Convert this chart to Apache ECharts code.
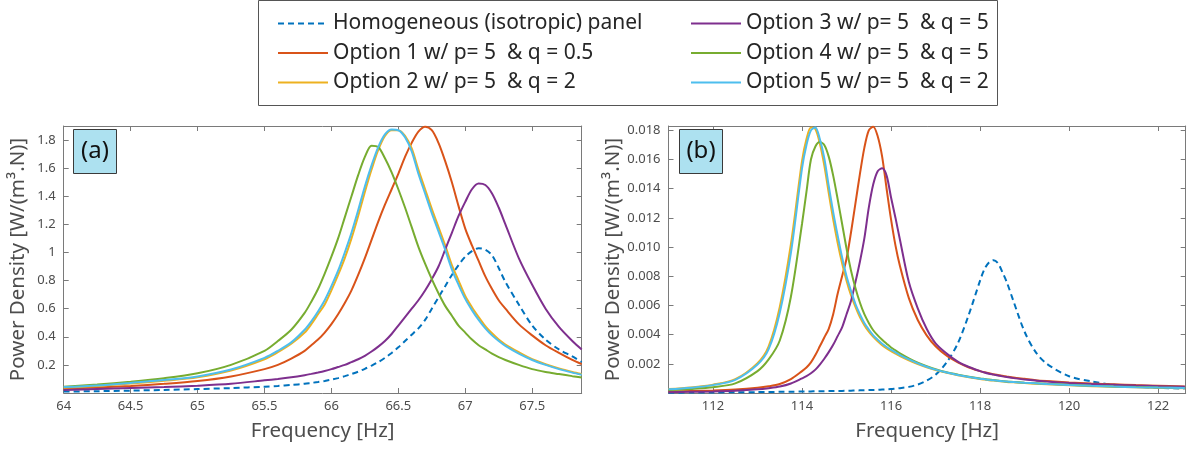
<!DOCTYPE html>
<html>
<head>
<meta charset="utf-8">
<script src="https://cdn.jsdelivr.net/npm/echarts@6/dist/echarts.min.js"></script>
<style>html,body{margin:0;padding:0;background:#fff}#c{width:1192px;height:452px}</style>
</head>
<body>
<div id="c"></div>
<script>
// ---------------- DATA ----------------
const seriesNames = [
  'Homogeneous (isotropic) panel',
  'Option 1 w/ p= 5  & q = 0.5',
  'Option 2 w/ p= 5  & q = 2',
  'Option 3 w/ p= 5  & q = 5',
  'Option 4 w/ p= 5  & q = 5',
  'Option 5 w/ p= 5  & q = 2'
];

// Panel (a): frequency [Hz]
const A_freq = [64, 64.25, 64.5, 64.75, 65, 65.25, 65.5, 65.6, 65.7, 65.8, 65.85, 65.9, 65.95, 66, 66.05, 66.1, 66.15, 66.2, 66.25, 66.3, 66.35, 66.4, 66.45, 66.5, 66.55, 66.6, 66.65, 66.7, 66.75, 66.8, 66.85, 66.9, 66.95, 67, 67.05, 67.1, 67.15, 67.2, 67.25, 67.3, 67.4, 67.5, 67.6, 67.7, 67.8, 67.87];
const A_homog = [0.01, 0.013, 0.017, 0.022, 0.028, 0.035, 0.045, 0.05, 0.057, 0.066, 0.072, 0.078, 0.086, 0.095, 0.106, 0.12, 0.135, 0.152, 0.172, 0.195, 0.22, 0.25, 0.285, 0.325, 0.37, 0.415, 0.46, 0.52, 0.6, 0.68, 0.76, 0.84, 0.91, 0.97, 1.01, 1.03, 1.02, 0.98, 0.89, 0.79, 0.63, 0.48, 0.38, 0.31, 0.26, 0.22];
const A_opt1 = [0.03, 0.04, 0.05, 0.065, 0.085, 0.118, 0.17, 0.2, 0.245, 0.3, 0.34, 0.38, 0.43, 0.49, 0.56, 0.64, 0.73, 0.84, 0.96, 1.09, 1.22, 1.34, 1.45, 1.56, 1.68, 1.78, 1.86, 1.895, 1.87, 1.78, 1.65, 1.5, 1.33, 1.17, 1.05, 0.94, 0.83, 0.74, 0.66, 0.6, 0.49, 0.41, 0.34, 0.285, 0.235, 0.205];
const A_opt2 = [0.038, 0.05, 0.067, 0.087, 0.112, 0.16, 0.24, 0.29, 0.35, 0.43, 0.49, 0.56, 0.63, 0.73, 0.84, 0.96, 1.1, 1.26, 1.43, 1.59, 1.73, 1.83, 1.87, 1.87, 1.83, 1.74, 1.59, 1.45, 1.31, 1.18, 1.05, 0.91, 0.8, 0.69, 0.61, 0.54, 0.475, 0.425, 0.38, 0.345, 0.29, 0.24, 0.205, 0.175, 0.15, 0.135];
const A_opt3 = [0.022, 0.028, 0.035, 0.042, 0.052, 0.066, 0.09, 0.1, 0.112, 0.127, 0.136, 0.146, 0.157, 0.17, 0.185, 0.2, 0.22, 0.24, 0.265, 0.295, 0.33, 0.37, 0.42, 0.48, 0.54, 0.6, 0.66, 0.73, 0.81, 0.9, 1.02, 1.14, 1.26, 1.36, 1.45, 1.49, 1.48, 1.42, 1.32, 1.2, 0.96, 0.77, 0.6, 0.47, 0.37, 0.31];
const A_opt4 = [0.045, 0.06, 0.08, 0.105, 0.14, 0.2, 0.3, 0.37, 0.45, 0.57, 0.65, 0.74, 0.85, 0.97, 1.1, 1.25, 1.4, 1.55, 1.68, 1.76, 1.75, 1.67, 1.57, 1.45, 1.32, 1.18, 1.04, 0.92, 0.81, 0.71, 0.62, 0.55, 0.48, 0.43, 0.38, 0.34, 0.31, 0.28, 0.255, 0.235, 0.2, 0.17, 0.15, 0.135, 0.12, 0.11];
const A_opt5 = [0.042, 0.054, 0.072, 0.092, 0.118, 0.167, 0.25, 0.3, 0.36, 0.45, 0.51, 0.58, 0.66, 0.76, 0.87, 1.0, 1.14, 1.3, 1.47, 1.62, 1.75, 1.84, 1.875, 1.87, 1.82, 1.72, 1.56, 1.42, 1.28, 1.15, 1.02, 0.88, 0.77, 0.67, 0.59, 0.52, 0.46, 0.41, 0.37, 0.335, 0.28, 0.235, 0.2, 0.17, 0.145, 0.13];

// Panel (b): frequency [Hz]
const B_freq = [111, 111.5, 112, 112.5, 113, 113.25, 113.5, 113.75, 114, 114.1, 114.2, 114.3, 114.4, 114.5, 114.6, 114.7, 114.8, 114.9, 115, 115.1, 115.2, 115.3, 115.4, 115.5, 115.6, 115.7, 115.8, 115.9, 116, 116.1, 116.2, 116.4, 116.6, 116.8, 117, 117.25, 117.5, 117.75, 118, 118.1, 118.2, 118.3, 118.4, 118.5, 118.6, 118.75, 119, 119.25, 119.5, 120, 120.5, 121, 121.5, 122, 122.6];
const B_homog = [0.00002, 0.00003, 0.00004, 0.00005, 0.00006, 0.00007, 0.00008, 0.00009, 0.0001, 0.000105, 0.00011, 0.000115, 0.00012, 0.000125, 0.00013, 0.000135, 0.00014, 0.000145, 0.00015, 0.00016, 0.00017, 0.00018, 0.00019, 0.0002, 0.00021, 0.00022, 0.000235, 0.00025, 0.00027, 0.0003, 0.00033, 0.00042, 0.00058, 0.00085, 0.00125, 0.0021, 0.0034, 0.0054, 0.0077, 0.0085, 0.00895, 0.0091, 0.0089, 0.0083, 0.0076, 0.0063, 0.0042, 0.0028, 0.002, 0.00115, 0.0008, 0.00056, 0.00044, 0.00036, 0.0003];
const B_opt1 = [0.0001, 0.00013, 0.00017, 0.00024, 0.00036, 0.00046, 0.00062, 0.00095, 0.0015, 0.00175, 0.0021, 0.0026, 0.0032, 0.0038, 0.0044, 0.0054, 0.0068, 0.008, 0.0092, 0.011, 0.013, 0.015, 0.0168, 0.018, 0.01825, 0.0176, 0.0162, 0.014, 0.0119, 0.0101, 0.0087, 0.0065, 0.005, 0.00395, 0.0032, 0.00255, 0.0021, 0.00175, 0.0015, 0.00142, 0.00135, 0.00129, 0.00123, 0.00118, 0.00113, 0.00106, 0.00097, 0.00088, 0.00082, 0.00072, 0.00065, 0.0006, 0.00054, 0.0005, 0.00045];
const B_opt2 = [0.00027, 0.00038, 0.00057, 0.00095, 0.00205, 0.0032, 0.0059, 0.0102, 0.0159, 0.0174, 0.0182, 0.0181, 0.0171, 0.0156, 0.0137, 0.0119, 0.0103, 0.0089, 0.0077, 0.0067, 0.0059, 0.0052, 0.00465, 0.0042, 0.00385, 0.00355, 0.00328, 0.00306, 0.00287, 0.0027, 0.00253, 0.00224, 0.00198, 0.00176, 0.00157, 0.00138, 0.00122, 0.00108, 0.00096, 0.00092, 0.00088, 0.00085, 0.00082, 0.00079, 0.00076, 0.00073, 0.00068, 0.00064, 0.0006, 0.00053, 0.00047, 0.00043, 0.00039, 0.00036, 0.00033];
const B_opt3 = [0.00005, 0.00008, 0.00011, 0.00016, 0.00025, 0.00033, 0.00044, 0.00065, 0.001, 0.00115, 0.00135, 0.0016, 0.00195, 0.00235, 0.0028, 0.0033, 0.0039, 0.0045, 0.0054, 0.0063, 0.0076, 0.009, 0.0106, 0.0127, 0.0143, 0.0152, 0.0154, 0.0149, 0.0134, 0.012, 0.0105, 0.0076, 0.0058, 0.0044, 0.0034, 0.0027, 0.00215, 0.00178, 0.0015, 0.0014, 0.00132, 0.00126, 0.0012, 0.00114, 0.00109, 0.00102, 0.00093, 0.00085, 0.00078, 0.00068, 0.00061, 0.00056, 0.00051, 0.00047, 0.00042];
const B_opt4 = [0.0002, 0.00028, 0.0004, 0.00066, 0.0015, 0.0023, 0.0036, 0.0066, 0.0116, 0.0138, 0.016, 0.0169, 0.0172, 0.017, 0.0162, 0.0149, 0.0133, 0.0116, 0.0099, 0.0084, 0.0072, 0.0062, 0.0054, 0.0048, 0.0043, 0.00395, 0.00365, 0.00338, 0.00312, 0.00292, 0.00272, 0.00238, 0.00208, 0.00184, 0.00163, 0.00142, 0.00126, 0.00112, 0.001, 0.00096, 0.00092, 0.00089, 0.00085, 0.00082, 0.00079, 0.00076, 0.00071, 0.00067, 0.00063, 0.00056, 0.0005, 0.00045, 0.00041, 0.00038, 0.00035];
const B_opt5 = [0.00025, 0.00036, 0.00054, 0.0009, 0.00195, 0.003, 0.0055, 0.0096, 0.0154, 0.017, 0.018, 0.0182, 0.0174, 0.0161, 0.0142, 0.0124, 0.0108, 0.0093, 0.008, 0.007, 0.0061, 0.0054, 0.0048, 0.00435, 0.00395, 0.00365, 0.00338, 0.00315, 0.00295, 0.00278, 0.0026, 0.0023, 0.00203, 0.0018, 0.0016, 0.0014, 0.00124, 0.0011, 0.00098, 0.00094, 0.0009, 0.00087, 0.00084, 0.00081, 0.00078, 0.00075, 0.0007, 0.00066, 0.00062, 0.00055, 0.00049, 0.00044, 0.0004, 0.00037, 0.00034];

const A_yTicks = {min: 0, max: 1.9, step: 0.2};
const B_yTicks = {min: 0, max: 0.0183, step: 0.002};
const A_xTicks = {min: 64, max: 67.87, step: 0.5};
const B_xRange = {min: 111, max: 122.62};
const B_xTickValues = [112, 114, 116, 118, 120, 122];

// ---------------- STYLE ----------------
const FONT = "'Noto Sans', 'DejaVu Sans', sans-serif";
const colors = ['#0072BD', '#D95319', '#EDB120', '#7E2F8E', '#77AC30', '#4DBEEE'];
const axisGrey = '#7a7a7a';
const labelGrey = '#4d4d4d';

const A_vals = [A_homog, A_opt1, A_opt2, A_opt3, A_opt4, A_opt5];
const B_vals = [B_homog, B_opt1, B_opt2, B_opt3, B_opt4, B_opt5];

function lineSeries(i, freq, vals, axisIdx) {
  return {
    type: 'line', name: seriesNames[i],
    xAxisIndex: axisIdx, yAxisIndex: axisIdx,
    data: freq.map((f, k) => [f, vals[k]]),
    symbol: 'none', smooth: 0.3, animation: false,
    lineStyle: { color: colors[i], width: 2, type: i === 0 ? [6, 4] : 'solid' },
    itemStyle: { color: colors[i] },
    z: 2 + i
  };
}

const axLine = { show: true, onZero: false, lineStyle: { color: axisGrey, width: 1 } };
const axTick = { show: true, inside: true, length: 5, lineStyle: { color: axisGrey, width: 1 } };
const lblStyle = { fontSize: 13, color: labelGrey, fontFamily: FONT };
const nameStyle = { fontSize: 20.5, color: labelGrey, fontFamily: FONT };
const legendCommon = {
  orient: 'vertical', top: 8, itemWidth: 50, itemHeight: 14, itemGap: 8.5,
  selectedMode: false,
  itemStyle: { opacity: 0 },
  textStyle: { fontSize: 21, color: '#262626', fontFamily: FONT }
};

const option = {
  backgroundColor: '#fff',
  animation: false,
  grid: [
    { left: 63.7, width: 518, top: 126, height: 267, outerBoundsMode: 'none' },
    { left: 668.5, width: 517.2, top: 126, height: 267, outerBoundsMode: 'none' }
  ],
  xAxis: [
    { type: 'value', gridIndex: 0, position: 'bottom', min: A_xTicks.min, max: A_xTicks.max, interval: A_xTicks.step,
      name: 'Frequency [Hz]', nameLocation: 'middle', nameGap: 28, nameTextStyle: nameStyle,
      axisLine: axLine, axisTick: axTick, splitLine: { show: false },
      axisLabel: Object.assign({ margin: 7, showMaxLabel: false }, lblStyle) },
    { type: 'value', gridIndex: 0, position: 'top', min: A_xTicks.min, max: A_xTicks.max, interval: A_xTicks.step,
      axisLine: axLine, axisTick: axTick, splitLine: { show: false }, axisLabel: { show: false } },
    { type: 'value', gridIndex: 1, position: 'bottom', min: B_xRange.min, max: B_xRange.max,
      name: 'Frequency [Hz]', nameLocation: 'middle', nameGap: 28, nameTextStyle: nameStyle,
      axisLine: axLine,
      axisTick: Object.assign({ customValues: B_xTickValues }, axTick),
      splitLine: { show: false },
      axisLabel: Object.assign({ margin: 7, customValues: B_xTickValues }, lblStyle) },
    { type: 'value', gridIndex: 1, position: 'top', min: B_xRange.min, max: B_xRange.max,
      axisLine: axLine,
      axisTick: Object.assign({ customValues: B_xTickValues }, axTick),
      splitLine: { show: false }, axisLabel: { show: false } }
  ],
  yAxis: [
    { type: 'value', gridIndex: 0, position: 'left', min: A_yTicks.min, max: A_yTicks.max, interval: A_yTicks.step,
      name: 'Power Density [W/(m³.N)]', nameLocation: 'middle', nameGap: 35, nameTextStyle: nameStyle,
      axisLine: axLine, axisTick: axTick, splitLine: { show: false },
      axisLabel: Object.assign({ margin: 8, showMinLabel: false, showMaxLabel: false,
        formatter: v => String(+v.toFixed(1)) }, lblStyle) },
    { type: 'value', gridIndex: 0, position: 'right', min: A_yTicks.min, max: A_yTicks.max, interval: A_yTicks.step,
      axisLine: axLine, axisTick: axTick, splitLine: { show: false }, axisLabel: { show: false } },
    { type: 'value', gridIndex: 1, position: 'left', min: B_yTicks.min, max: B_yTicks.max, interval: B_yTicks.step,
      name: 'Power Density [W/(m³.N)]', nameLocation: 'middle', nameGap: 43, nameTextStyle: nameStyle,
      axisLine: axLine, axisTick: axTick, splitLine: { show: false },
      axisLabel: Object.assign({ margin: 8, showMinLabel: false, showMaxLabel: false,
        formatter: v => v.toFixed(3) }, lblStyle) },
    { type: 'value', gridIndex: 1, position: 'right', min: B_yTicks.min, max: B_yTicks.max, interval: B_yTicks.step,
      axisLine: axLine, axisTick: axTick, splitLine: { show: false }, axisLabel: { show: false } }
  ],
  legend: [
    Object.assign({ left: 272, data: seriesNames.slice(0, 3) }, legendCommon),
    Object.assign({ left: 685, data: seriesNames.slice(3, 6) }, legendCommon)
  ],
  graphic: [
    { type: 'rect', z: -1, shape: { x: 258.5, y: 0.5, width: 739, height: 105 },
      style: { fill: '#fff', stroke: '#555', lineWidth: 1 } },
    { type: 'rect', z: 10, shape: { x: 73.5, y: 129.5, width: 43, height: 44 },
      style: { fill: '#ade1f0', stroke: '#3a3a3a', lineWidth: 1 } },
    { type: 'text', z: 11, x: 95, y: 151.5,
      style: { text: '(a)', fontSize: 24, fontFamily: FONT, fill: '#111', textAlign: 'center', textVerticalAlign: 'middle' } },
    { type: 'rect', z: 10, shape: { x: 679.5, y: 129.5, width: 43, height: 44 },
      style: { fill: '#ade1f0', stroke: '#3a3a3a', lineWidth: 1 } },
    { type: 'text', z: 11, x: 701, y: 151.5,
      style: { text: '(b)', fontSize: 24, fontFamily: FONT, fill: '#111', textAlign: 'center', textVerticalAlign: 'middle' } }
  ],
  series: [
    ...A_vals.map((v, i) => lineSeries(i, A_freq, v, 0)),
    ...B_vals.map((v, i) => lineSeries(i, B_freq, v, 2))
  ]
};

const chart = echarts.init(document.getElementById('c'), null, { renderer: 'canvas' });
chart.setOption(option);
</script>
</body>
</html>
